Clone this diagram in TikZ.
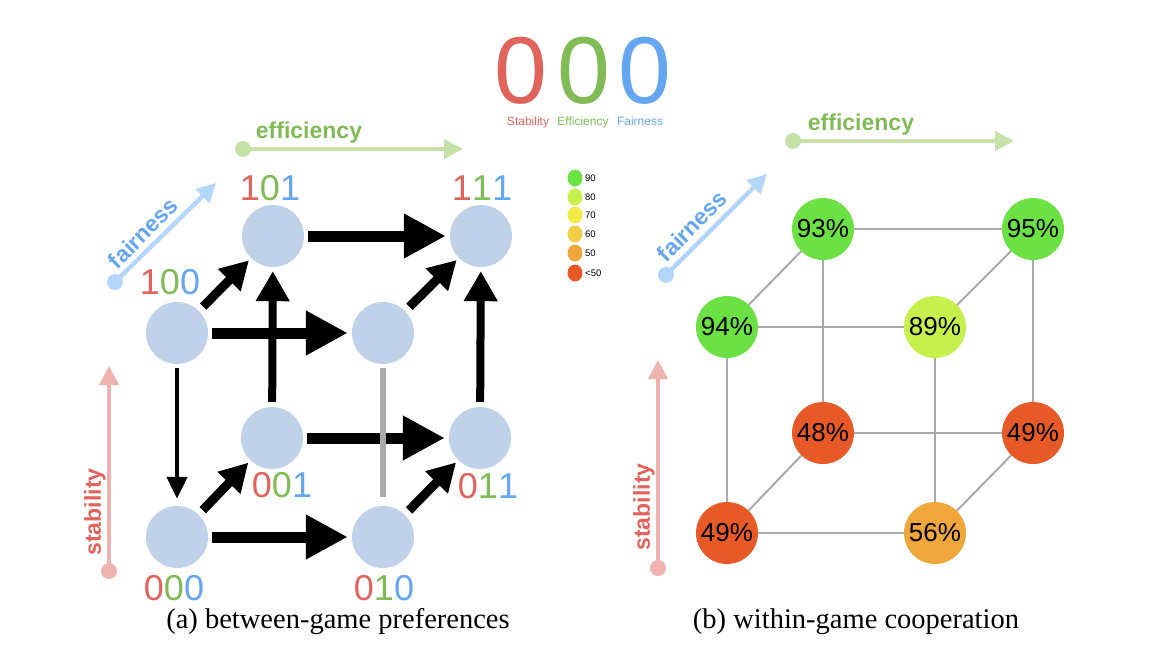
\documentclass[tikz,border=0pt]{standalone}
\usepackage{fontspec}
\setmainfont{Liberation Serif}
\newfontfamily\hv{Liberation Sans}
\usetikzlibrary{arrows.meta}
\definecolor{dR}{HTML}{E0635C}
\definecolor{dG}{HTML}{80BB55}
\definecolor{dB}{HTML}{64A6F1}
\definecolor{aR}{HTML}{EEB2AF}
\definecolor{aG}{HTML}{C6E1A7}
\definecolor{aB}{HTML}{B4D6FB}
\definecolor{nodeblue}{HTML}{BFD2EA}
\definecolor{pGreen}{HTML}{6BE143}
\definecolor{pLime}{HTML}{C6F04B}
\definecolor{pYellow}{HTML}{F3EA46}
\definecolor{pGold}{HTML}{F2CD46}
\definecolor{pOrange}{HTML}{EFA63A}
\definecolor{pRed}{HTML}{E75A27}
\definecolor{edgegrey}{HTML}{A9A9A9}
\tikzset{
  statenode/.style={circle, fill=nodeblue, minimum size=62pt, inner sep=0pt},
  pctnode/.style={circle, minimum size=62pt, inner sep=0pt, font=\hv\fontsize{26}{26}\selectfont},
  codelabel/.style={inner sep=0pt, font=\hv\fontsize{36}{36}\selectfont},
  bigarrow/.style={line width=11pt, -{Triangle[length=42pt,width=42pt]}, shorten <=4pt, shorten >=4pt},
  midarrow/.style={line width=8pt, -{Triangle[length=30pt,width=32pt]}, shorten <=5pt, shorten >=4pt},
  diagarrow/.style={line width=9pt, -{Triangle[length=28pt,width=30pt]}, shorten <=6pt, shorten >=3pt},
  thinarrow/.style={line width=4.5pt, -{Triangle[length=22pt,width=20pt]}, shorten <=4pt, shorten >=7pt},
  axisline/.style={line width=4.5pt, -{Triangle[length=19pt,width=19pt]}},
  axdot/.style={circle, minimum size=16pt, inner sep=0pt},
  axlabel/.style={inner sep=0pt, font=\hv\bfseries\fontsize{23}{23}\selectfont},
  cubeedge/.style={draw=edgegrey, line width=2pt},
  legdot/.style={ellipse, minimum width=15pt, minimum height=17pt, inner sep=0pt},
  legtext/.style={anchor=west, inner sep=0pt, font=\hv\fontsize{9.5}{9.5}\selectfont},
  caption/.style={anchor=base, inner sep=0pt, font=\fontsize{28.5}{30}\selectfont},
  titledigit/.style={inner sep=0pt, font=\hv\fontsize{95}{95}\selectfont},
  titlesub/.style={anchor=base, inner sep=0pt, font=\hv\fontsize{12}{12}\selectfont}
}
\usetikzlibrary{shapes.geometric}
\begin{document}
\begin{tikzpicture}[x=1pt,y=-1pt]
\useasboundingbox (0,0) rectangle (1172,666);
% title
\node[titledigit, text=dR] (t1) at (521,71) {0};
\node[titledigit, text=dG] (t2) at (584,71) {0};
\node[titledigit, text=dB] (t3) at (645,71) {0};
\node[titlesub, text=dR] (s1) at (528,126) {Stability};
\node[titlesub, text=dG] (s2) at (583,126) {Efficiency};
\node[titlesub, text=dB] (s3) at (640,126) {Fairness};
% legend
\node[legdot, fill=pGreen] (l1) at (575,178) {};
\node[legdot, fill=pLime] (l2) at (575,197) {};
\node[legdot, fill=pYellow] (l3) at (575,215) {};
\node[legdot, fill=pGold] (l4) at (575,234) {};
\node[legdot, fill=pOrange] (l5) at (575,253) {};
\node[legdot, fill=pRed] (l6) at (575,273) {};
\node[legtext] (lt1) at (585,178) {90};
\node[legtext] (lt2) at (585,197) {80};
\node[legtext] (lt3) at (585,215) {70};
\node[legtext] (lt4) at (585,234) {60};
\node[legtext] (lt5) at (585,253) {50};
\node[legtext] (lt6) at (585,273) {<50};
% ===== left axes =====
\node[axdot, fill=aG] (eLdot) at (243,149) {};
\coordinate (eLtip) at (463,149);
\draw[axisline, aG] (eLdot.center) -- (eLtip);
\node[axlabel, text=dG] (eLlab) at (309,133) {efficiency};
\node[axdot, fill=aB] (fLdot) at (115,282) {};
\coordinate (fLtip) at (216,183);
\draw[axisline, aB] (fLdot.center) -- (fLtip);
\node[axlabel, text=dB, rotate=45] (fLlab) at (143,233) {fairness};
\node[axdot, fill=aR] (sLdot) at (109,571) {};
\coordinate (sLtip) at (109,366);
\draw[axisline, aR] (sLdot.center) -- (sLtip);
\node[axlabel, text=dR, rotate=90] (sLlab) at (95,512) {stability};
% ===== left cube =====
\node[statenode] (n100) at (177,333) {};
\node[statenode] (n101) at (273,236) {};
\node[statenode] (n111) at (481,236) {};
\node[statenode] (n110) at (383,333) {};
\node[statenode] (n001) at (272,438) {};
\node[statenode] (n011) at (480,438) {};
\node[statenode] (n000) at (177,537) {};
\node[statenode] (n010) at (383,537) {};
\node[codelabel] (c101) at (270,188) {\color{dR}1\color{dG}0\color{dB}1};
\node[codelabel] (c111) at (482,188) {\color{dR}1\color{dG}1\color{dB}1};
\node[codelabel] (c100) at (170,282) {\color{dR}1\color{dG}0\color{dB}0};
\node[codelabel] (c001) at (282,485) {\color{dR}0\color{dG}0\color{dB}1};
\node[codelabel] (c011) at (488,486) {\color{dR}0\color{dG}1\color{dB}1};
\node[codelabel] (c000) at (174,588) {\color{dR}0\color{dG}0\color{dB}0};
\node[codelabel] (c010) at (384,588) {\color{dR}0\color{dG}1\color{dB}0};
\draw[bigarrow] (n101) -- (n111);
\draw[bigarrow] (n100) -- (n110);
\draw[bigarrow] (n001) -- (n011);
\draw[bigarrow] (n000) -- (n010);
\draw[midarrow] (n001) -- (n101);
\draw[midarrow] (n011) -- (n111);
\draw[thinarrow] (n100) -- (n000);
\draw[diagarrow] (n100) -- (n101);
\draw[diagarrow] (n110) -- (n111);
\draw[diagarrow] (n000) -- (n001);
\draw[diagarrow] (n010) -- (n011);
\draw[draw=edgegrey, line width=5.5pt, shorten <=4pt, shorten >=9pt] (n110) -- (n010);
% ===== right axes =====
\node[axdot, fill=aG] (eRdot) at (793,141) {};
\coordinate (eRtip) at (1014,141);
\draw[axisline, aG] (eRdot.center) -- (eRtip);
\node[axlabel, text=dG] (eRlab) at (861,125) {efficiency};
\node[axdot, fill=aB] (fRdot) at (666,275) {};
\coordinate (fRtip) at (767,174);
\draw[axisline, aB] (fRdot.center) -- (fRtip);
\node[axlabel, text=dB, rotate=45] (fRlab) at (692,226) {fairness};
\node[axdot, fill=aR] (sRdot) at (658,568) {};
\coordinate (sRtip) at (658,360);
\draw[axisline, aR] (sRdot.center) -- (sRtip);
\node[axlabel, text=dR, rotate=90] (sRlab) at (644,507) {stability};
% ===== right cube =====
\coordinate (p93) at (823,229);
\coordinate (p95) at (1033,229);
\coordinate (p94) at (727,327);
\coordinate (p89) at (935,327);
\coordinate (p48) at (823,433);
\coordinate (p49r) at (1033,433);
\coordinate (p49l) at (727,533);
\coordinate (p56) at (935,533);
\draw[cubeedge] (p93) -- (p95) (p94) -- (p89) (p48) -- (p49r) (p49l) -- (p56);
\draw[cubeedge] (p93) -- (p48) (p95) -- (p49r) (p94) -- (p49l) (p89) -- (p56);
\draw[cubeedge] (p93) -- (p94) (p95) -- (p89) (p48) -- (p49l) (p49r) -- (p56);
\node[pctnode, fill=pGreen] (n93) at (p93) {93\%};
\node[pctnode, fill=pGreen] (n95) at (p95) {95\%};
\node[pctnode, fill=pGreen] (n94) at (p94) {94\%};
\node[pctnode, fill=pLime] (n89) at (p89) {89\%};
\node[pctnode, fill=pRed] (n48) at (p48) {48\%};
\node[pctnode, fill=pRed] (n49r) at (p49r) {49\%};
\node[pctnode, fill=pRed] (n49l) at (p49l) {49\%};
\node[pctnode, fill=pOrange] (n56) at (p56) {56\%};
% captions
\node[caption] (capa) at (338,628) {(a) between-game preferences};
\node[caption] (capb) at (856,628) {(b) within-game cooperation};
\end{tikzpicture}
\end{document}
